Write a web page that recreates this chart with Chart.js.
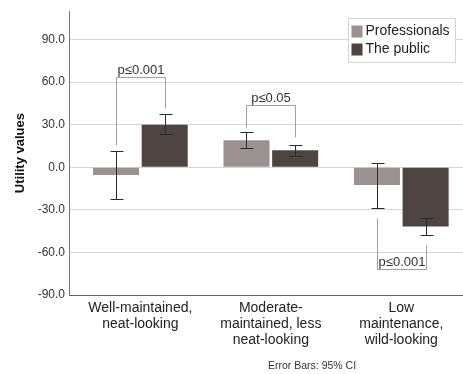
<!DOCTYPE html>
<html>
<head>
<meta charset="utf-8">
<script src="https://cdn.jsdelivr.net/npm/chart.js@4"></script>
<style>body{margin:0;background:#fff;overflow:hidden}</style>
</head>
<body>
<canvas id="mycanvas" width="463" height="374"></canvas>
<script>
var categories = [["Well-maintained,", "neat-looking"], ["Moderate-", "maintained, less", "neat-looking"], ["Low", "maintenance,", "wild-looking"]];
var professionals = [-5.5, 19.0, -12.5];
var profLow = [-22.5, 13.6, -28.6];
var profHigh = [11.7, 24.6, 3.0];
var thePublic = [30.0, 12.0, -41.8];
var publicLow = [23.4, 8.2, -48.0];
var publicHigh = [37.7, 16.0, -35.6];
var yTicks = [-90, -60, -30, 0, 30, 60, 90];
// significance brackets (y values): start over professionals, bracket line, end over the public
var pLabels = ["p≤0.001", "p≤0.05", "p≤0.001"];
var bracketFrom = [15.8, 28.5, -36];
var bracketLine = [63.3, 44.2, -72];
var bracketTo = [41.8, 21.5, -54.9];

var FONT = "'Liberation Sans', Arial, sans-serif";
var lightCol = '#9b9190';
var darkCol = '#4e4441';

function pts(vals) {
	var out = [];
	for (var i in vals) out.push({x: +i, y: vals[i]});
	return out;
}

var errorBars = {
	id: 'errorBars',
	afterDatasetsDraw: function(chart) {
		var ctx = chart.ctx, y = chart.scales.y;
		var lows = [profLow, publicLow], highs = [profHigh, publicHigh];
		ctx.save();
		ctx.strokeStyle = '#2b2b2b';
		ctx.lineWidth = 1;
		for (var d = 0; d < 2; d++) {
			var meta = chart.getDatasetMeta(d);
			meta.data.forEach(function(bar, i) {
				var x = Math.round(bar.x) + 0.5;
				var y1 = Math.round(y.getPixelForValue(lows[d][i])) + 0.5;
				var y2 = Math.round(y.getPixelForValue(highs[d][i])) + 0.5;
				ctx.beginPath();
				ctx.moveTo(x, y1); ctx.lineTo(x, y2);
				ctx.moveTo(x - 6, y1); ctx.lineTo(x + 7, y1);
				ctx.moveTo(x - 6, y2); ctx.lineTo(x + 7, y2);
				ctx.stroke();
			});
		}
		ctx.restore();
	}
};

var brackets = {
	id: 'brackets',
	afterDatasetsDraw: function(chart) {
		var ctx = chart.ctx, y = chart.scales.y;
		var m0 = chart.getDatasetMeta(0), m1 = chart.getDatasetMeta(1);
		ctx.save();
		ctx.strokeStyle = '#a0a0a0';
		ctx.lineWidth = 1;
		ctx.fillStyle = '#333';
		ctx.font = '13px ' + FONT;
		ctx.textAlign = 'center';
		ctx.textBaseline = 'bottom';
		for (var i = 0; i < pLabels.length; i++) {
			var xa = Math.round(m0.data[i].x) + 0.5;
			var xb = Math.round(m1.data[i].x) + 0.5;
			var ya = Math.round(y.getPixelForValue(bracketFrom[i])) + 0.5;
			var yl = Math.round(y.getPixelForValue(bracketLine[i])) + 0.5;
			var yb = Math.round(y.getPixelForValue(bracketTo[i])) + 0.5;
			ctx.beginPath();
			ctx.moveTo(xa, ya); ctx.lineTo(xa, yl); ctx.lineTo(xb, yl); ctx.lineTo(xb, yb);
			ctx.stroke();
			ctx.fillText(pLabels[i], (xa + xb) / 2, yl - 1);
		}
		ctx.restore();
	}
};

var legendBox = {
	id: 'legendBox',
	afterDraw: function(chart) {
		var ctx = chart.ctx;
		var bx = 348.5, by = 18.5, bw = 107, bh = 44;
		ctx.save();
		ctx.fillStyle = '#fff';
		ctx.fillRect(bx, by, bw, bh);
		ctx.strokeStyle = '#d4d4d4';
		ctx.strokeRect(bx, by, bw, bh);
		ctx.font = '14px ' + FONT;
		ctx.textBaseline = 'middle';
		chart.data.datasets.forEach(function(ds, i) {
			var cy = by + 13 + i * 18;
			ctx.fillStyle = ds.backgroundColor;
			ctx.fillRect(bx + 3, cy - 6, 11, 12);
			ctx.fillStyle = '#222';
			ctx.fillText(ds.label, bx + 17, cy);
		});
		ctx.font = '10.5px ' + FONT;
		ctx.fillStyle = '#333';
		ctx.fillText('Error Bars: 95% CI', 268, 366);
		ctx.restore();
	}
};

var ctx = document.getElementById('mycanvas');
var barGraph = new Chart(ctx, {
	type: 'bar',
	data: {
		datasets: [
			{label: 'Professionals', backgroundColor: lightCol, data: pts(professionals)},
			{label: 'The public', backgroundColor: darkCol, data: pts(thePublic)}
		]
	},
	options: {
		responsive: false,
		animation: false,
		layout: {padding: {top: 10, right: 0, left: 0, bottom: 0}},
		categoryPercentage: 0.746,
		barPercentage: 0.946,
		plugins: {legend: {display: false}, tooltip: {enabled: false}},
		scales: {
			x: {
				type: 'linear',
				min: -0.547,
				max: 2.473,
				offset: false,
				grid: {display: false, drawTicks: false, offset: false},
				border: {display: true, color: '#666'},
				afterBuildTicks: function(scale) {
					scale.ticks = categories.map(function(c, i) { return {value: i}; });
				},
				afterFit: function(scale) { scale.height = 79; },
				ticks: {
					autoSkip: false,
					maxRotation: 0,
					padding: 5,
					color: '#222',
					font: {family: FONT, size: 14, lineHeight: 1.15},
					callback: function(v) { return categories[v]; }
				}
			},
			y: {
				min: -90,
				max: 110,
				afterBuildTicks: function(scale) {
					scale.ticks = yTicks.map(function(v) { return {value: v}; });
				},
				afterFit: function(scale) { scale.width = 69; },
				grid: {color: '#d6d6d6', drawTicks: false},
				border: {display: true, color: '#777'},
				ticks: {
					padding: 4,
					color: '#333',
					font: {family: FONT, size: 12},
					callback: function(v) { return v.toFixed(1); }
				},
				title: {
					display: true,
					text: 'Utility values',
					color: '#111',
					padding: {top: 13, bottom: 0},
					font: {family: FONT, size: 13, weight: 'bold'}
				}
			}
		}
	},
	plugins: [errorBars, brackets, legendBox]
});
</script>
</body>
</html>
